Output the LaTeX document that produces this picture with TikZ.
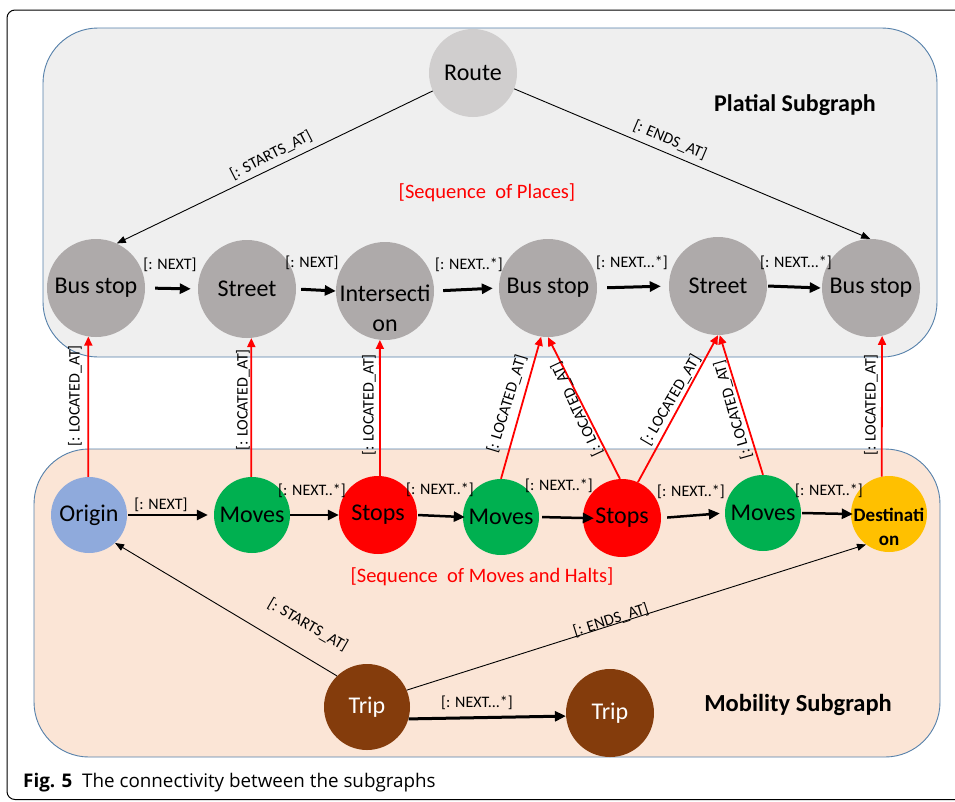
\documentclass[tikz,border=0pt]{standalone}
\usepackage{fontspec}
\setmainfont{Carlito}
\newfontfamily\capfont{Open Sans}
\usetikzlibrary{arrows.meta,calc}
\definecolor{placegray}{HTML}{AEAAAA}
\definecolor{routegray}{HTML}{D0CECE}
\definecolor{platfill}{HTML}{EFEFEF}
\definecolor{mobfill}{HTML}{FBE5D6}
\definecolor{boxline}{HTML}{5580AA}
\definecolor{movegreen}{HTML}{00B050}
\definecolor{stopred}{HTML}{FF0000}
\definecolor{originblue}{HTML}{8FAADC}
\definecolor{destyellow}{HTML}{FFC000}
\definecolor{tripbrown}{HTML}{843C0C}
\begin{document}
\begin{tikzpicture}[x=1pt,y=-1pt,
  bignode/.style={circle,inner sep=0pt,minimum size=#1,font=\fontsize{24}{30}\selectfont,align=center},
  place/.style={bignode=98pt,fill=placegray},
  mob/.style={bignode=76pt},
  elabel/.style={font=\fontsize{16}{18}\selectfont,inner sep=0pt},
  seqlabel/.style={font=\fontsize{20.5}{24}\selectfont,text=stopred,inner sep=0pt},
  thinarr/.style={-{Triangle[length=9pt,width=7pt]},line width=0.9pt},
  thickarr/.style={-{Triangle[length=11pt,width=10pt]},line width=3pt},
  redarr/.style={draw=stopred,-{Triangle[length=9pt,width=8pt]},line width=1.8pt}
]
\useasboundingbox (0,0) rectangle (955,801);
\clip (0,0) rectangle (955,801);
\fill[white] (0,0) rectangle (955,801);
% outer frame
\draw[line width=1pt,rounded corners=8pt] (7,10) rectangle (1000,799.5);
% subgraph boxes
\draw[fill=platfill,draw=boxline,line width=0.9pt,rounded corners=55pt] (43,28) rectangle (937,357);
\draw[fill=mobfill,draw=boxline,line width=0.9pt,rounded corners=55pt] (34,449) rectangle (940,757);

% platial nodes
\node[bignode=88pt,fill=routegray] (route) at (473,73) {Route};
\node[place] (bs1) at (96,288) {Bus stop};
\node[place] (st1) at (247,289) {Street};
\node[place] (int) at (385,291) {};
\node[font=\fontsize{24}{30}\selectfont,align=center,inner sep=0pt] (inttext) at ($(int)+(0,17)$) {Intersecti\\on};
\node[place] (bs2) at (548,288) {Bus stop};
\node[place] (st2) at (718,286) {Street};
\node[place] (bs3) at (871,288) {Bus stop};

\node[font=\bfseries\fontsize{24}{27}\selectfont,inner sep=0pt] (plattitle) at (795,105) {Platial Subgraph};
\node[seqlabel] (seqplaces) at (487,193) {[Sequence\ \ of Places]};

% mobility nodes
\node[mob,fill=originblue] (org) at (89,515) {Origin};
\node[mob,fill=movegreen] (m1) at (252,515) {Moves};
\node[mob,fill=stopred,minimum size=78pt] (s1) at (378,515) {Stops};
\node[mob,fill=movegreen] (m2) at (501,517) {Moves};
\node[mob,fill=stopred,minimum size=78pt] (s2) at (622,518) {Stops};
\node[mob,fill=movegreen] (m3) at (763,513) {Moves};
\node[mob,fill=destyellow] (dest) at (889,514) {};
\node[font=\bfseries\fontsize{19}{24}\selectfont,align=center,inner sep=0pt] (desttext) at ($(dest)+(0,13)$) {Destinati\\on};
\node[bignode=86pt,fill=tripbrown,text=white] (trip1) at (367,707) {Trip};
\node[bignode=88pt,fill=tripbrown,text=white] (trip2) at (610,713) {Trip};

\node[font=\bfseries\fontsize{24.5}{27}\selectfont,inner sep=0pt] (mobtitle) at (798,705) {Mobility Subgraph};
\node[seqlabel] (seqmoves) at (482,577) {[Sequence\ \ of Moves and Halts]};

% route edges
\draw[thinarr] (route.-156) -- (bs1.65);
\draw[thinarr] (route.-21) -- (bs3.91);
\node[elabel,rotate=27] (lstart1) at (271,155) {[: STARTS\_AT]};
\node[elabel,rotate=-23] (lend1) at (670,140) {[: ENDS\_AT]};

% top sequence arrows
\draw[thickarr,shorten <=10pt,shorten >=7pt] (bs1.east) -- (st1.west);
\draw[thickarr,shorten <=5pt,shorten >=0pt] (st1.east) -- (int.west);
\draw[thickarr,shorten <=9pt,shorten >=6pt] (int.east) -- (bs2.west);
\draw[thickarr,shorten <=10pt,shorten >=8pt] (bs2.east) -- (st2.west);
\draw[thickarr,shorten <=1pt,shorten >=1pt] (st2.east) -- (bs3.west);
\node[elabel] (ln1) at (170,265) {[: NEXT]};
\node[elabel] (ln2) at (312,263) {[: NEXT]};
\node[elabel] (ln3) at (469,265) {[: NEXT..*]};
\node[elabel] (ln4) at (632,263) {[: NEXT...*]};
\node[elabel] (ln5) at (796,263) {[: NEXT...*]};

% bottom sequence arrows
\draw[thickarr,line width=2.5pt,shorten <=1pt,shorten >=6pt] (org.east) -- (m1.west);
\draw[thickarr,line width=2.5pt] (m1.east) -- (s1.west);
\draw[thickarr,line width=2.5pt,shorten <=1pt,shorten >=-2pt] (s1.east) -- (m2.west);
\draw[thickarr,line width=2.5pt,shorten <=3pt,shorten >=-11pt] (m2.east) -- (s2.west);
\draw[thickarr,line width=2.5pt,shorten <=6pt,shorten >=5pt] (s2.east) -- (m3.west);
\draw[thickarr,line width=2.5pt,shorten <=1pt,shorten >=-2pt] (m3.east) -- (dest.west);
\node[elabel] (lb1) at (161,505) {[: NEXT]};
\node[elabel] (lb2) at (312,491) {[: NEXT..*]};
\node[elabel] (lb3) at (440,490) {[: NEXT..*]};
\node[elabel] (lb4) at (559,486) {[: NEXT..*]};
\node[elabel] (lb5) at (691,492) {[: NEXT..*]};
\node[elabel] (lb6) at (829,491) {[: NEXT..*]};

% located_at edges
\draw[redarr] (org.91) -- (bs1.-99);
\draw[redarr] (m1.91) -- (st1.-85);
\draw[redarr] (s1.87) -- (int.-96);
\draw[redarr] (m2.90) -- (bs2.-98);
\draw[redarr] (s2.93) -- (bs2.-90);
\draw[redarr] (s2.66) -- (st2.-90);
\draw[redarr] (m3.90) -- (st2.-88);
\draw[redarr] (dest.101) -- (bs3.-77);
\node[elabel,rotate=90] (ll1) at (75,396) {[: LOCATED\_AT]};
\node[elabel,rotate=90] (ll2) at (243,400) {[: LOCATED\_AT]};
\node[elabel,rotate=90] (ll3) at (369,405) {[: LOCATED\_AT]};
\node[elabel,rotate=73] (ll4) at (507,404) {[: LOCATED\_AT]};
\node[elabel,rotate=115] (ll5) at (577,409) {[: LOCATED\_AT]};
\node[elabel,rotate=59.5] (ll6) at (671,400) {[: LOCATED\_AT]};
\node[elabel,rotate=106] (ll7) at (733,410) {[: LOCATED\_AT]};
\node[elabel,rotate=90] (ll8) at (871,405) {[: LOCATED\_AT]};

% trip edges
\draw[thinarr] (trip1.134) -- (org.-47);
\draw[thinarr] (trip1.23) -- (dest.-127);
\draw[thickarr,line width=3pt] (trip1.-16) -- (trip2.184);
\node[elabel,rotate=-30] (lstart2) at (308,625) {[: STARTS\_AT]};
\node[elabel,rotate=17.5] (lend2) at (611,620) {[: ENDS\_AT]};
\node[elabel] (lnt) at (477,703) {[: NEXT...*]};

% caption
\node[anchor=west,inner sep=0pt,font=\capfont\fontsize{18.8}{21}\selectfont] (caption) at (23,783) {\textbf{Fig. 5}\ \ The connectivity between the subgraphs};
\end{tikzpicture}
\end{document}
